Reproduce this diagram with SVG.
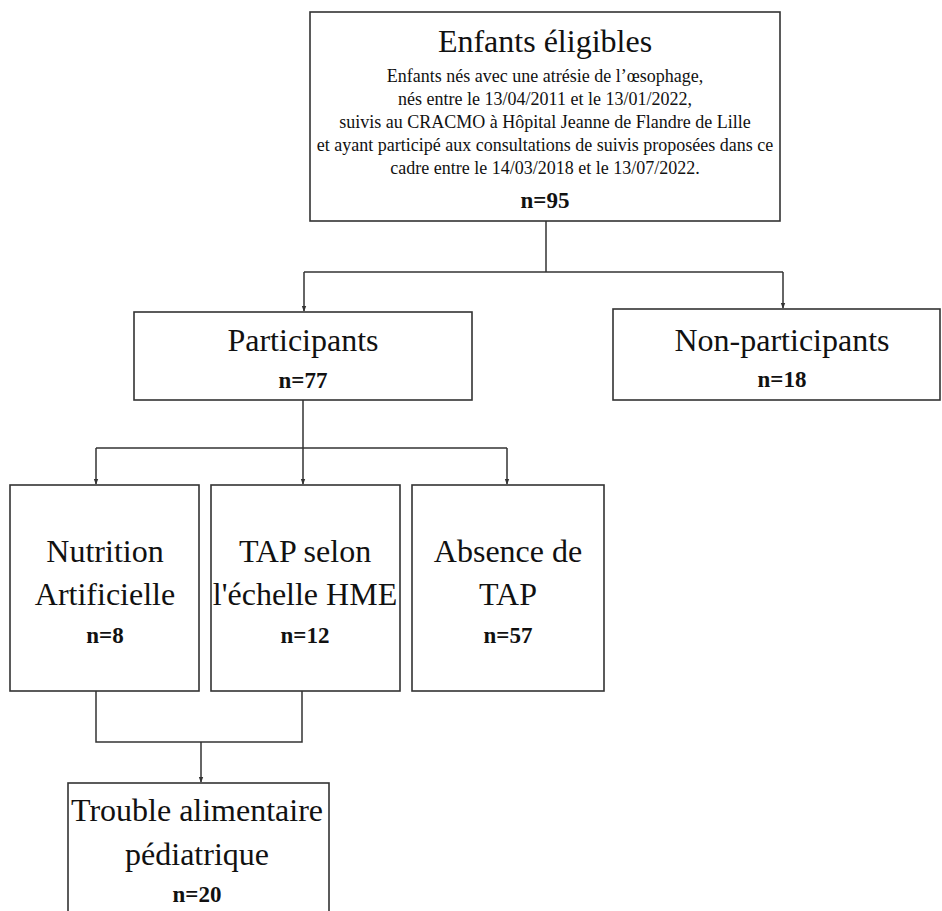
<svg xmlns="http://www.w3.org/2000/svg" width="942" height="911" viewBox="0 0 942 911">
<defs>
<marker id="arr" viewBox="0 0 8 8" refX="7" refY="4" markerWidth="6" markerHeight="6" markerUnits="userSpaceOnUse" orient="auto">
<path d="M0,1 L8,4 L0,7 z" fill="#333"/>
</marker>
<style>
.box{fill:#fff;stroke:#333;stroke-width:1.6}
.t{font-family:"Liberation Serif","Times New Roman",serif;fill:#111;text-anchor:middle}
.big{font-size:32px}
.small{font-size:18px}
.n{font-size:23px;font-weight:bold}
.c{fill:none;stroke:#333;stroke-width:1.5}
</style>
</defs>
<rect width="942" height="911" fill="#fff"/>
<g id="connectors">
<path class="c" d="M546 221 V272"/>
<path class="c" d="M304 272 H783"/>
<path class="c" d="M304 272 V311" marker-end="url(#arr)"/>
<path class="c" d="M783 272 V308" marker-end="url(#arr)"/>
<path class="c" d="M303 400 V448"/>
<path class="c" d="M96 448 H507"/>
<path class="c" d="M96 448 V484" marker-end="url(#arr)"/>
<path class="c" d="M303 448 V484" marker-end="url(#arr)"/>
<path class="c" d="M507 448 V484" marker-end="url(#arr)"/>
<path class="c" d="M96 691 V742 H302 V691"/>
<path class="c" d="M201 742 V782" marker-end="url(#arr)"/>
</g>
<g id="eligibles">
<rect class="box" x="310" y="12" width="470" height="209"/>
<text class="t big" x="545" y="52">Enfants éligibles</text>
<text class="t small" x="545" y="82">Enfants nés avec une atrésie de l’œsophage,</text>
<text class="t small" x="545" y="105">nés entre le 13/04/2011 et le 13/01/2022,</text>
<text class="t small" x="545" y="128">suivis au CRACMO à Hôpital Jeanne de Flandre de Lille</text>
<text class="t small" x="545" y="151">et ayant participé aux consultations de suivis proposées dans ce</text>
<text class="t small" x="545" y="174">cadre entre le 14/03/2018 et le 13/07/2022.</text>
<text class="t n" x="545" y="208">n=95</text>
</g>
<g id="participants">
<rect class="box" x="134" y="312" width="338" height="88"/>
<text class="t big" x="303" y="351">Participants</text>
<text class="t n" x="303" y="388">n=77</text>
</g>
<g id="non-participants">
<rect class="box" x="613" y="309" width="327" height="91"/>
<text class="t big" x="782" y="351">Non-participants</text>
<text class="t n" x="782" y="387">n=18</text>
</g>
<g id="nutrition">
<rect class="box" x="10" y="485" width="189" height="206"/>
<text class="t big" x="105" y="562">Nutrition</text>
<text class="t big" x="105" y="605">Artificielle</text>
<text class="t n" x="105" y="643">n=8</text>
</g>
<g id="tap-hme">
<rect class="box" x="211" y="485" width="189" height="206"/>
<text class="t big" x="305" y="562">TAP selon</text>
<text class="t big" x="305" y="605">l'échelle HME</text>
<text class="t n" x="305" y="643">n=12</text>
</g>
<g id="absence-tap">
<rect class="box" x="412" y="485" width="192" height="206"/>
<text class="t big" x="508" y="562">Absence de</text>
<text class="t big" x="508" y="605">TAP</text>
<text class="t n" x="508" y="643">n=57</text>
</g>
<g id="trouble">
<rect class="box" x="68" y="783" width="261" height="140"/>
<text class="t big" x="197" y="821">Trouble alimentaire</text>
<text class="t big" x="197" y="865">pédiatrique</text>
<text class="t n" x="197" y="902">n=20</text>
</g>
</svg>
